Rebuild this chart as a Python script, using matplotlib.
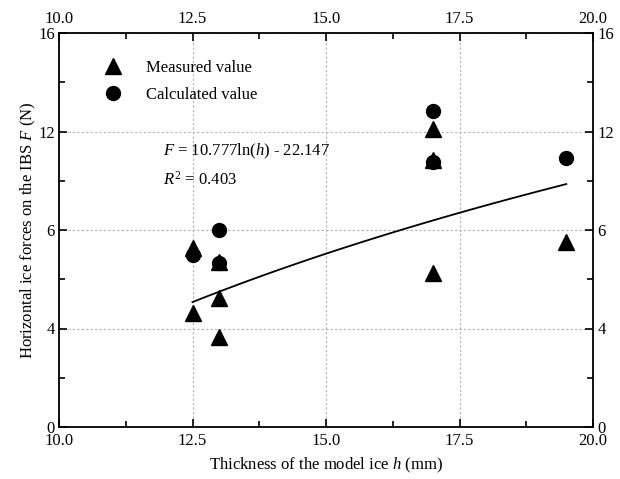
import numpy as np
import matplotlib
matplotlib.use('Agg')
import matplotlib.pyplot as plt
from matplotlib.ticker import MultipleLocator

plt.rcParams['font.family'] = ['Liberation Serif', 'DejaVu Serif']
plt.rcParams['mathtext.fontset'] = 'custom'
plt.rcParams['mathtext.rm'] = 'Liberation Serif'
plt.rcParams['mathtext.it'] = 'Liberation Serif:italic'

# measured / calculated ice forces vs thickness
h_meas = [12.5, 12.5, 13.0, 13.0, 13.0, 17.0, 17.0, 17.0, 19.5]
f_meas = [7.25, 4.63, 6.72, 5.24, 3.65, 12.10, 10.86, 6.25, 7.51]
h_calc = [12.5, 13.0, 13.0, 17.0, 17.0, 19.5]
f_calc = [6.98, 8.00, 6.66, 12.83, 10.78, 10.92]

# logarithmic fit given on the chart
fit_a, fit_b = 10.777, -22.147
fit_range = (12.5, 19.5)

y_ticks = [0, 4, 8, 12, 16]
y_tick_labels = ['0', '4', '6', '12', '16']
x_ticks = [10.0, 12.5, 15.0, 17.5, 20.0]

fig = plt.figure(figsize=(6.2, 4.79), dpi=100)
ax = fig.add_axes([59 / 620, 52 / 479, 534 / 620, 394 / 479])

ax.grid(True, color='#b0b0b0', linestyle=(0, (2, 2)), linewidth=0.8)
ax.set_axisbelow(True)

hh = np.linspace(*fit_range, 100)
ax.plot(hh, fit_a * np.log(hh) + fit_b, color='black', linewidth=1.3, zorder=2)
ax.plot(h_calc, f_calc, 'o', color='black', markersize=10, zorder=3,
        label='Calculated value')
ax.plot(h_meas, f_meas, '^', color='black', markersize=11, zorder=4,
        label='Measured value')

ax.set_xlim(10, 20)
ax.set_ylim(0, 16)
ax.set_xticks(x_ticks)
ax.set_xticklabels([f'{v:.1f}' for v in x_ticks])
ax.set_yticks(y_ticks)
ax.set_yticklabels(y_tick_labels)
ax.xaxis.set_minor_locator(MultipleLocator(1.25))
ax.yaxis.set_minor_locator(MultipleLocator(2))
ax.tick_params(which='both', direction='in', top=True, right=True,
               labeltop=True, labelright=True, labelsize=12, width=1.2)
ax.tick_params(which='major', length=6)
ax.tick_params(which='minor', length=4)
ax.tick_params(axis='x', pad=4)
ax.tick_params(axis='y', pad=3)
for s in ax.spines.values():
    s.set_linewidth(1.3)

ax.set_xlabel('Thickness of the model ice $h$ (mm)', fontsize=12, labelpad=5)
ax.set_ylabel('Horizontal ice forces on the IBS $F$ (N)', fontsize=12, labelpad=0)

handles, labels = ax.get_legend_handles_labels()
ax.legend(handles[::-1], labels[::-1], loc='upper left',
          bbox_to_anchor=(0.045, 0.965), frameon=False, fontsize=12,
          handletextpad=1.0, labelspacing=0.65, borderpad=0.3)

ax.text(0.195, 0.725, '$F$ = 10.777ln($h$) - 22.147\n$R^2$ = 0.403',
        transform=ax.transAxes, fontsize=12, va='top', ha='left',
        linespacing=1.75)

fig.savefig('out.png', dpi=100)
